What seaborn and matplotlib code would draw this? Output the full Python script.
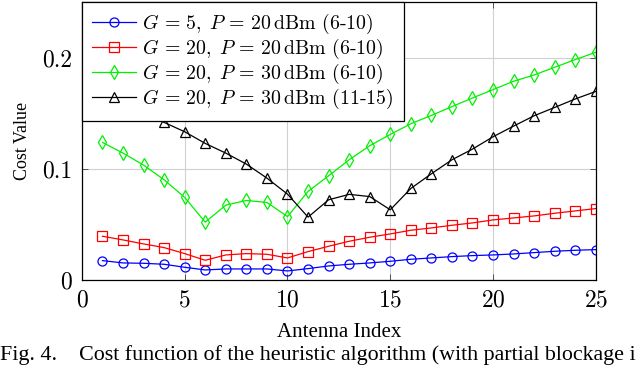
import numpy as np
import pandas as pd
import matplotlib
matplotlib.use('Agg')
import matplotlib.pyplot as plt
import seaborn as sns

# Data
antenna = list(range(1, 26))

cost_g5_p20 = [0.0174, 0.0153, 0.0150, 0.0141, 0.0114, 0.0090, 0.0099, 0.0099, 0.0099, 0.0081,
               0.0102, 0.0126, 0.0141, 0.0153, 0.0168, 0.0186, 0.0198, 0.0210, 0.0219, 0.0225,
               0.0234, 0.0246, 0.0258, 0.0267, 0.0273]
cost_g20_p20 = [0.0393, 0.0360, 0.0324, 0.0291, 0.0237, 0.0177, 0.0225, 0.0237, 0.0231, 0.0198,
                0.0255, 0.0303, 0.0348, 0.0384, 0.0414, 0.0447, 0.0468, 0.0492, 0.0513, 0.0540,
                0.0558, 0.0576, 0.0600, 0.0621, 0.0642]
cost_g20_p30 = [0.1237, 0.1141, 0.1033, 0.0901, 0.0742, 0.0520, 0.0673, 0.0715, 0.0697, 0.0570,
                0.0796, 0.0937, 0.1081, 0.1207, 0.1309, 0.1405, 0.1480, 0.1559, 0.1637, 0.1712,
                0.1787, 0.1844, 0.1913, 0.1982, 0.2048]
cost_g20_p30_b = [0.1660, 0.1580, 0.1500, 0.1417, 0.1333, 0.1228, 0.1141, 0.1042, 0.0916, 0.0772,
                  0.0565, 0.0721, 0.0770, 0.0750, 0.0631, 0.0823, 0.0955, 0.1081, 0.1177, 0.1288,
                  0.1384, 0.1477, 0.1552, 0.1628, 0.1696]

labels = [r'$G\,=\,5,\;P\,=\,20\,\mathrm{dBm}$ (6-10)',
          r'$G\,=\,20,\;P\,=\,20\,\mathrm{dBm}$ (6-10)',
          r'$G\,=\,20,\;P\,=\,30\,\mathrm{dBm}$ (6-10)',
          r'$G\,=\,20,\;P\,=\,30\,\mathrm{dBm}$ (11-15)']
colors = ['#0000ff', '#ff0000', '#00f000', 'black']
markers = ['o', 's', 'd', '^']
msizes = [6.5, 7, 7.5, 7]

plt.rcParams['mathtext.fontset'] = 'cm'
plt.rcParams['font.family'] = 'serif'
plt.rcParams['font.serif'] = ['cmr10', 'DejaVu Serif']
plt.rcParams['axes.formatter.use_mathtext'] = True

fig, ax = plt.subplots(figsize=(6.4, 3.65), dpi=100)
fig.subplots_adjust(left=0.128, right=0.931, top=0.9945, bottom=0.233)

series = [cost_g5_p20, cost_g20_p20, cost_g20_p30, cost_g20_p30_b]
for vals, lab, c, m, ms in zip(series, labels, colors, markers, msizes):
    df = pd.DataFrame({'Antenna Index': antenna, 'Cost Value': vals})
    sns.lineplot(data=df, x='Antenna Index', y='Cost Value', ax=ax, color=c, marker=m,
                 markersize=ms, markerfacecolor='none', markeredgecolor=c,
                 markeredgewidth=0.9, linewidth=0.9, label=lab)

ax.set_xlim(0, 25)
ax.set_ylim(0, 0.25)
ax.set_xticks([0, 5, 10, 15, 20, 25])
ax.set_yticks([0, 0.1, 0.2])
ax.set_yticklabels(['0', '0.1', '0.2'])
ax.grid(True, color='#d0d0d0', linewidth=0.8)
ax.set_axisbelow(True)
ax.tick_params(direction='in', length=4, width=0.6, color='#404040', labelsize=17,
               top=True, right=True, pad=7)
for s in ax.spines.values():
    s.set_linewidth(0.9)

ax.set_xlabel('Antenna Index', fontsize=15, family='Liberation Serif', labelpad=8)
ax.set_ylabel('Cost Value', fontsize=13, family='Liberation Serif', labelpad=8)

leg = ax.legend(loc='upper left', fontsize=14.3, frameon=True, fancybox=False,
                edgecolor='black', framealpha=1, borderaxespad=0, borderpad=0.5,
                labelspacing=0.05, handlelength=2.2, handletextpad=0.35)
leg.get_frame().set_linewidth(0.9)
leg.set_zorder(10)

fig.text(0.0, 5 / 365, 'Fig. 4.    Cost function of the heuristic algorithm (with partial blockage i',
         fontsize=15.8, family='Liberation Serif', ha='left', va='baseline')

fig.savefig('out.png', dpi=100)
